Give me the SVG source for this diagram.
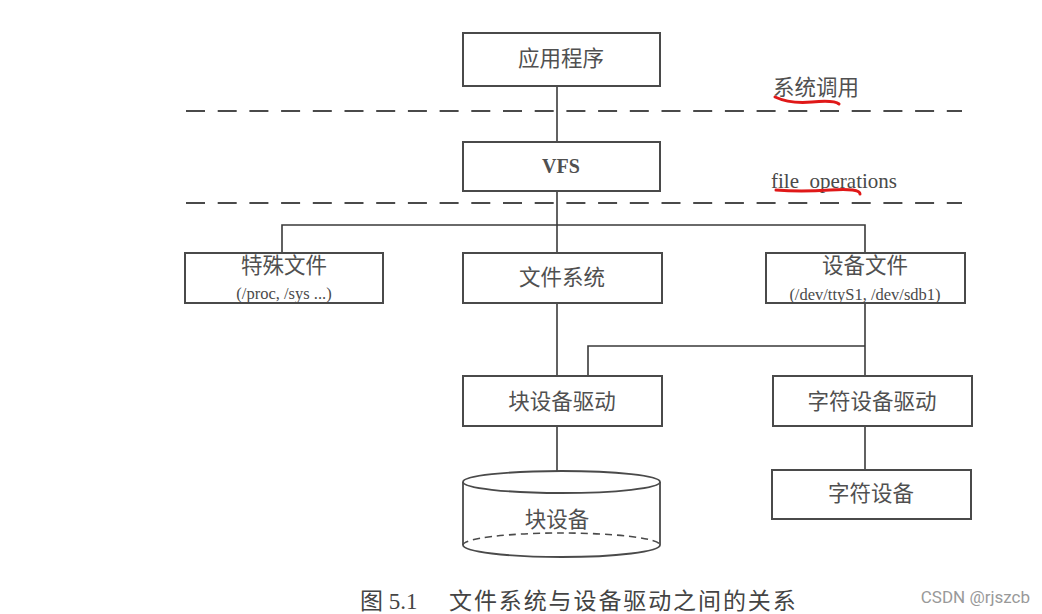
<svg xmlns="http://www.w3.org/2000/svg" width="1042" height="614" viewBox="0 0 1042 614">
<style>
.box{fill:#fff;stroke:#4a4a4a;stroke-width:2}
.ln{fill:none;stroke:#3a3a3a;stroke-width:1.6}
.dash{fill:none;stroke:#4a4a4a;stroke-width:2.2;stroke-dasharray:19 12.7}
.t{font-family:"Liberation Serif","Noto Sans CJK SC",serif;font-size:21.5px;fill:#505050;text-anchor:middle;dominant-baseline:central}
.s{font-family:"Liberation Serif","Noto Sans CJK SC",serif;font-size:16.5px;fill:#4a4a4a;text-anchor:middle;dominant-baseline:central}
.red{fill:none;stroke:#e01818;stroke-width:3;stroke-linecap:round}
</style>
<rect width="1042" height="614" fill="#fff"/>
<g id="layers">
<line class="dash" x1="186" y1="111" x2="962" y2="111"/>
<line class="dash" x1="186" y1="203" x2="962" y2="203"/>
<text class="t" x="816" y="88">系统调用</text>
<path class="red" d="M775,97 Q790,104 812,102 T839,104"/>
<text x="834" y="181" style="font-family:'Liberation Serif',serif;font-size:21px;fill:#4a4a4a;text-anchor:middle;dominant-baseline:central">file_operations</text>
<path class="red" d="M776,190 Q800,192 830,190 T860,194"/>
</g>
<g id="connectors">
<line class="ln" x1="557" y1="86" x2="557" y2="142"/>
<line class="ln" x1="557" y1="191" x2="557" y2="253"/>
<polyline class="ln" points="282,253 282,225 865,225 865,253"/>
<line class="ln" x1="557" y1="303" x2="557" y2="376"/>
<line class="ln" x1="865" y1="303" x2="865" y2="376"/>
<polyline class="ln" points="865,346 588,346 588,376"/>
<line class="ln" x1="557" y1="426" x2="557" y2="471"/>
<line class="ln" x1="865" y1="426" x2="865" y2="470"/>
</g>
<g id="app"><rect class="box" x="463" y="33" width="197" height="53"/><text class="t" x="561" y="59">应用程序</text></g>
<g id="vfs"><rect class="box" x="463" y="142" width="197" height="49"/><text class="t" x="561" y="166" style="font-weight:bold;font-size:20px">VFS</text></g>
<g id="special"><rect class="box" x="185" y="253" width="198" height="50"/><text class="t" x="284" y="266">特殊文件</text><text class="s" x="284" y="293">(/proc, /sys ...)</text></g>
<g id="fs"><rect class="box" x="463" y="253" width="199" height="50"/><text class="t" x="562" y="278">文件系统</text></g>
<g id="devfile"><rect class="box" x="766" y="253" width="199" height="50"/><text class="t" x="865" y="266">设备文件</text><text class="s" x="865" y="294">(/dev/ttyS1, /dev/sdb1)</text></g>
<g id="blkdrv"><rect class="box" x="463" y="376" width="199" height="50"/><text class="t" x="562" y="402">块设备驱动</text></g>
<g id="chrdrv"><rect class="box" x="773" y="376" width="199" height="50"/><text class="t" x="872" y="402">字符设备驱动</text></g>
<g id="chrdev"><rect class="box" x="772" y="470" width="199" height="49"/><text class="t" x="871" y="494">字符设备</text></g>
<g id="blkdev">
<path d="M463,482 L463,545 A98.5,12 0 0 0 660,545 L660,482" fill="#fff" stroke="#4a4a4a" stroke-width="1.8"/>
<ellipse cx="561.5" cy="482" rx="98.5" ry="11" fill="#fff" stroke="#4a4a4a" stroke-width="1.8"/>
<path d="M463,545 A98.5,12 0 0 1 660,545" fill="none" stroke="#4a4a4a" stroke-width="1.6" stroke-dasharray="7 5"/>
<text class="t" x="557" y="520">块设备</text>
</g>
<g id="caption">
<text x="360" y="601" style="font-family:'Liberation Serif','Noto Sans CJK SC',serif;font-size:23px;fill:#444;dominant-baseline:central">图 5.1</text>
<text x="449" y="601" style="font-family:'Liberation Serif','Noto Sans CJK SC',serif;font-size:23px;fill:#444;dominant-baseline:central;letter-spacing:1.9px">文件系统与设备驱动之间的关系</text>
<text x="1030" y="597" style="font-family:Roboto,'Liberation Sans',sans-serif;font-size:17px;fill:#999;text-anchor:end;dominant-baseline:central">CSDN @rjszcb</text>
</g>
</svg>
